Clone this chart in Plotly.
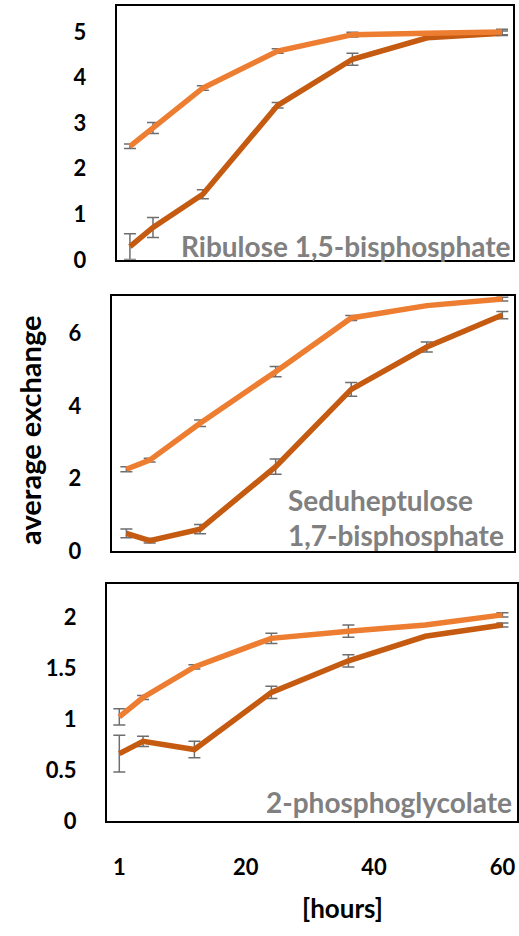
import plotly.graph_objects as go

W, H = 519, 936

hours = [0.3, 4, 12, 24, 36, 48, 60]
x_tick_vals = [0.3, 20, 40, 60]
x_tick_text = ["1", "20", "40", "60"]

# Ribulose 1,5-bisphosphate
rubp_a = [2.49, 2.89, 3.77, 4.58, 4.94, 4.97, 5.00]
rubp_a_err = [0.05, 0.12, 0.05, 0.05, 0.05, 0.0, 0.06]
rubp_b = [0.29, 0.71, 1.44, 3.39, 4.40, 4.87, 4.97]
rubp_b_err = [0.28, 0.22, 0.10, 0.06, 0.13, 0.0, 0.05]

# Seduheptulose 1,7-bisphosphate
sbp_a = [2.26, 2.51, 3.53, 4.95, 6.43, 6.77, 6.95]
sbp_a_err = [0.07, 0.05, 0.09, 0.14, 0.07, 0.0, 0.05]
sbp_b = [0.49, 0.29, 0.61, 2.33, 4.46, 5.63, 6.51]
sbp_b_err = [0.12, 0.06, 0.13, 0.21, 0.19, 0.14, 0.10]

# 2-phosphoglycolate
pg_a = [1.02, 1.21, 1.51, 1.79, 1.86, 1.92, 2.02]
pg_a_err = [0.08, 0.02, 0.02, 0.05, 0.06, 0.0, 0.02]
pg_b = [0.66, 0.78, 0.70, 1.26, 1.57, 1.81, 1.92]
pg_b_err = [0.18, 0.05, 0.08, 0.06, 0.06, 0.0, 0.02]

y_ticks_top = [0, 1, 2, 3, 4, 5]
y_ticks_mid = [0, 2, 4, 6]
y_ticks_bot = [0, 0.5, 1, 1.5, 2]
y_ticks_bot_text = ["0", "0.5", "1", "1.5", "2"]

ORANGE = "#ED7D31"
DARK = "#C55A11"
ERR = "#6E6E6E"
GREY = "#808080"
FONT = "Lato"


def px(x):
    return x / W


def py(y):
    return 1 - y / H


fig = go.Figure()

panels = [
    ("x", "y", rubp_a, rubp_a_err, rubp_b, rubp_b_err),
    ("x2", "y2", sbp_a, sbp_a_err, sbp_b, sbp_b_err),
    ("x3", "y3", pg_a, pg_a_err, pg_b, pg_b_err),
]
for xa, ya, a, ae, b, be in panels:
    for vals, errs, col in ((b, be, DARK), (a, ae, ORANGE)):
        fig.add_trace(go.Scatter(
            x=hours, y=vals, xaxis=xa, yaxis=ya, mode="lines",
            line=dict(color=col, width=5.5),
            error_y=dict(type="data", array=errs, visible=True,
                         color=ERR, thickness=1.5, width=6),
            showlegend=False, hoverinfo="skip",
        ))

# panel boxes in pixels: (left, right, top, bottom)
boxes = [(117, 514, 6, 263.5), (112, 515, 300, 559), (107, 518, 592.5, 832.5)]
xranges = [[-1.81, 61.76], [-2.02, 61.85], [-1.65, 62.27]]
yranges = [[0, 5.57], [0, 7.04], [0, 2.32]]
yticks = [(y_ticks_top, [str(v) for v in y_ticks_top]),
          (y_ticks_mid, [str(v) for v in y_ticks_mid]),
          (y_ticks_bot, y_ticks_bot_text)]

tickfont = dict(family=FONT, size=22, color="black", weight="bold")
for i, ((l, r, t, b), xr, yr, (tv, tt)) in enumerate(zip(boxes, xranges, yranges, yticks)):
    sfx = "" if i == 0 else str(i + 1)
    fig.layout["xaxis" + sfx] = dict(
        domain=[px(l), px(r)], range=xr, anchor="y" + sfx,
        showgrid=False, zeroline=False, showline=True, mirror=True,
        linecolor="black", linewidth=2, ticks="",
        tickvals=x_tick_vals if i == 2 else [],
        ticktext=x_tick_text if i == 2 else [],
        showticklabels=(i == 2), tickfont=tickfont, ticklabelstandoff=26,
    )
    fig.layout["yaxis" + sfx] = dict(
        domain=[py(b), py(t)], range=yr, anchor="x" + sfx,
        showgrid=False, zeroline=False, showline=True, mirror=True,
        linecolor="black", linewidth=2, ticks="",
        tickvals=tv, ticktext=tt, tickfont=tickfont, ticklabelstandoff=24,
    )

ann_font = dict(family=FONT, size=28, color=GREY, weight="bold")
annotations = [
    dict(x=px(514), y=py(249), text="Ribulose 1,5-bisphosphate",
         xanchor="right", yanchor="middle", font=ann_font),
    dict(x=px(287), y=py(507), text="Seduheptulose",
         xanchor="left", yanchor="middle", font=ann_font),
    dict(x=px(287), y=py(543), text="1,7-bisphosphate",
         xanchor="left", yanchor="middle", font=ann_font),
    dict(x=px(515), y=py(813), text="2-phosphoglycolate",
         xanchor="right", yanchor="middle", font=ann_font),
    dict(x=px(30), y=py(436), text="average exchange", textangle=-90,
         xanchor="center", yanchor="middle",
         font=dict(family=FONT, size=29, color="black", weight="bold")),
    dict(x=px(343), y=py(921), text="[hours]",
         xanchor="center", yanchor="middle",
         font=dict(family=FONT, size=26, color="black", weight="bold")),
]
for a in annotations:
    a.update(xref="paper", yref="paper", showarrow=False)

fig.update_layout(
    width=W, height=H, margin=dict(l=0, r=0, t=0, b=0),
    paper_bgcolor="white", plot_bgcolor="white",
    annotations=annotations,
)

fig.write_html(
    "out.html",
    config={"displayModeBar": False},
    post_script="document.body.style.margin='0';document.body.style.overflow='hidden';",
)
